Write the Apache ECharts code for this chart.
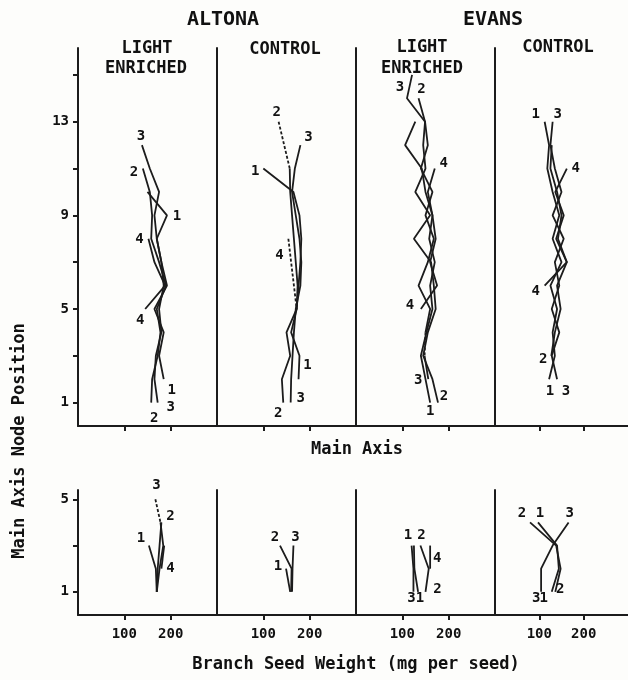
<!DOCTYPE html>
<html>
<head>
<meta charset="utf-8">
<script src="https://cdn.jsdelivr.net/npm/echarts@6/dist/echarts.min.js"></script>
<style>
html, body { margin: 0; padding: 0; background: #fdfdfb; }
#main { width: 628px; height: 680px; }
</style>
</head>
<body>
<div id="main"></div>
<script>
// ticks
var xTicks = [100, 200];
var mainTicks = [1, 3, 5, 7, 9, 11, 13, 15];
var mainTickLabels = [1, 5, 9, 13];
var branchTicks = [1, 3, 5];
var branchTickLabels = [1, 5];

// main axis: [seed weight mg, node] per plant 1..4, top node first
var altonaLightMain = [
  [[150,10],[192,9],[170,8],[180,7],[192,6],[165,5],[185,4],[175,3],[185,2]],
  [[140,11],[155,10],[160,9],[158,8],[175,7],[190,6],[170,5],[178,4],[172,3],[160,2],[158,1]],
  [[138,12],[155,11],[175,10],[165,9],[170,8],[180,7],[185,6],[175,5],[180,4],[168,3],[165,2],[172,1]],
  [[152,8],[165,7],[188,6],[145,5]]
];
var altonaCtrlMain = [
  [[100,11],[165,10],[178,9],[182,8],[180,7],[176,6],[172,5],[160,4],[178,3],[176,2]],
  [[133,13],[145,12],[157,11],[158,10],[162,9],[166,8],[170,7],[174,6],[172,5],[150,4],[158,3],[140,2],[143,1]],
  [[180,12],[168,11],[162,10],[170,9],[178,8],[182,7],[180,6],[170,5],[166,4],[163,3],[160,2],[159,1]],
  [[154,8],[160,7],[166,6],[172,5]]
];
var evansLightMain = [
  [[128,13],[106,12],[142,11],[150,10],[165,9],[158,8],[170,7],[160,6],[165,5],[152,4],[140,3],[150,2],[160,1]],
  [[135,14],[149,13],[145,12],[150,11],[128,10],[160,9],[125,8],[162,7],[168,6],[172,5],[155,4],[145,3],[165,2],[177,1]],
  [[121,15],[110,14],[149,13],[155,12],[140,11],[165,10],[150,9],[168,8],[155,7],[135,6],[160,5],[150,4],[148,3],[156,2]],
  [[170,11],[155,10],[165,9],[172,8],[160,7],[175,6],[140,5]]
];
var evansCtrlMain = [
  [[112,13],[122,12],[118,11],[130,10],[145,9],[130,8],[150,7],[125,6],[140,5],[130,4],[135,3],[122,2]],
  [[128,12],[125,11],[140,10],[150,9],[142,8],[162,7],[140,6],[148,5],[135,4],[127,3]],
  [[130,13],[125,12],[135,11],[150,10],[130,9],[155,8],[135,7],[145,6],[128,5],[145,4],[128,3],[140,2]],
  [[162,11],[136,10],[155,9],[138,8],[162,7],[112,6]]
];

// branches: [seed weight mg, main axis node]
var altonaLightBranch = [
  [[153,3],[168,2],[170,1]],
  [[180,4],[176,3],[172,2],[170,1]],
  [[167,5],[178,4],[184,3],[176,2],[170,1]],
  [[186,3],[180,2]]
];
var altonaCtrlBranch = [
  [[149,2],[158,1]],
  [[136,3],[161,2],[160,1]],
  [[165,3],[163,2],[162,1]],
  null
];
var evansLightBranch = [
  [[125,3],[126,2],[134,1]],
  [[139,3],[157,2],[150,1]],
  [[120,3],[124,2],[124,1]],
  [[160,3],[160,2]]
];
var evansCtrlBranch = [
  [[97,4],[140,3],[144,2],[128,1]],
  [[79,4],[138,3],[148,2],[136,1]],
  [[166,4],[130,3],[104,2],[104,1]],
  null
];

// broken-line pieces: [plant, from point, to point]
var altonaCtrlMainDash = [[2,0,2],[4,0,3]];
var evansLightMainDash = [[3,11,12]];
var altonaLightBranchDash = [[3,0,1]];

// plant numbers: [plant, point (-1 = last), dx, dy]
var altonaLightMainLabels = [[3,0,-1,-9],[2,0,-9,4],[1,1,10,1],[4,0,-9,1],[4,-1,-5,11],[1,-1,8,11],[3,-1,13,5],[2,-1,3,16]];
var altonaCtrlMainLabels = [[2,0,-2,-9],[3,0,8,-8],[1,0,-8,3],[4,0,-9,17],[2,-1,-5,11],[3,-1,10,-4],[1,-1,9,-14]];
var evansLightMainLabels = [[3,0,-12,12],[2,0,3,-9],[4,0,9,-5],[4,-1,-11,-4],[3,-1,-10,1],[2,-1,6,-6],[1,-1,0,9]];
var evansCtrlMainLabels = [[1,0,-9,-7],[3,0,5,-7],[4,0,9,0],[4,-1,-9,6],[2,-1,-8,4],[1,-1,1,12],[3,-1,9,12]];
var altonaLightBranchLabels = [[3,0,1,-14],[2,0,9,-6],[1,0,-8,-7],[4,-1,9,0]];
var altonaCtrlBranchLabels = [[2,0,-5,-8],[3,0,2,-8],[1,0,-8,-2]];
var evansLightBranchLabels = [[1,0,-6,-10],[2,0,1,-10],[4,-1,7,-10],[3,-1,-2,7],[1,-1,2,7],[2,-1,12,-2]];
var evansCtrlBranchLabels = [[2,0,-8,-9],[1,0,2,-9],[3,0,1,-9],[3,-1,-5,7],[1,-1,-8,7],[2,-1,5,-2]];

var FONT = '"DejaVu Sans Mono", monospace';
var INK = '#1c1c1c';
var lefts = [78, 217, 356, 495];

var grids = [], xAxes = [], yAxes = [], series = [];

function addPanel(row, col, lines, dashes, labels) {
  var idx = grids.length;
  var first = col === 0;
  grids.push({
    left: lefts[col], width: 139,
    top: row === 0 ? 48 : 490,
    height: row === 0 ? 378 : 125
  });
  xAxes.push({
    type: 'value', gridIndex: idx, min: 0, max: 300,
    axisLine: { show: true, onZero: false, lineStyle: { color: INK, width: 2 } },
    axisTick: { show: true, customValues: xTicks, length: 5, lineStyle: { color: INK, width: 2 } },
    axisLabel: { show: row === 1, customValues: xTicks, color: '#111', fontFamily: FONT, fontWeight: 'bold', fontSize: 14, margin: 12 },
    splitLine: { show: false }
  });
  yAxes.push({
    type: 'value', gridIndex: idx, min: 0, max: row === 0 ? 16.15 : 5.4,
    axisLine: { show: true, onZero: false, lineStyle: { color: INK, width: 2 } },
    axisTick: { show: first, customValues: row === 0 ? mainTicks : branchTicks, length: 5, lineStyle: { color: INK, width: 2 } },
    axisLabel: { show: first, customValues: row === 0 ? mainTickLabels : branchTickLabels, color: '#111', fontFamily: FONT, fontWeight: 'bold', fontSize: 14, margin: 9 },
    splitLine: { show: false }
  });

  function pushRun(run, dashed) {
    series.push({
      type: 'line', xAxisIndex: idx, yAxisIndex: idx, data: run,
      showSymbol: false, symbol: 'none', silent: true, animation: false,
      lineStyle: { color: INK, width: 1.8, type: dashed ? [3, 2] : 'solid' }
    });
  }

  lines.forEach(function (pts, i) {
    if (!pts) return;
    var plant = i + 1;
    function isDash(j) {
      return dashes.some(function (d) { return d[0] === plant && j >= d[1] && j + 1 <= d[2]; });
    }
    var dash = isDash(0);
    var run = [pts[0]];
    for (var j = 0; j < pts.length - 1; j++) {
      var dj = isDash(j);
      if (dj !== dash) { pushRun(run, dash); run = [pts[j]]; dash = dj; }
      run.push(pts[j + 1]);
    }
    pushRun(run, dash);
  });

  // plant numbers at the line ends
  series.push({
    type: 'scatter', xAxisIndex: idx, yAxisIndex: idx, silent: true, animation: false, z: 5,
    symbolSize: 0, itemStyle: { color: INK, opacity: 1 },
    label: { show: true, position: 'inside', formatter: '{b}', color: '#111', fontFamily: FONT, fontWeight: 'bold', fontSize: 14 },
    data: labels.map(function (s) {
      var pts = lines[s[0] - 1];
      var p = pts[s[1] < 0 ? pts.length + s[1] : s[1]];
      return { name: String(s[0]), value: p, label: { offset: [s[2], s[3]] } };
    })
  });
}

addPanel(0, 0, altonaLightMain, [], altonaLightMainLabels);
addPanel(0, 1, altonaCtrlMain, altonaCtrlMainDash, altonaCtrlMainLabels);
addPanel(0, 2, evansLightMain, evansLightMainDash, evansLightMainLabels);
addPanel(0, 3, evansCtrlMain, [], evansCtrlMainLabels);
addPanel(1, 0, altonaLightBranch, altonaLightBranchDash, altonaLightBranchLabels);
addPanel(1, 1, altonaCtrlBranch, [], altonaCtrlBranchLabels);
addPanel(1, 2, evansLightBranch, [], evansLightBranchLabels);
addPanel(1, 3, evansCtrlBranch, [], evansCtrlBranchLabels);

function txt(s, x, y, size, rot) {
  return {
    type: 'text', x: x, y: y, rotation: rot || 0, silent: true,
    style: { text: s, fill: '#111', font: 'bold ' + size + 'px ' + FONT, align: 'center', verticalAlign: 'middle' }
  };
}

var myChart = echarts.init(document.getElementById('main'));
myChart.setOption({
  backgroundColor: '#fdfdfb',
  animation: false,
  grid: grids,
  xAxis: xAxes,
  yAxis: yAxes,
  series: series,
  graphic: [
    txt('ALTONA', 223, 20, 20),
    txt('EVANS', 493, 20, 20),
    txt('LIGHT', 147, 49, 17),
    txt('ENRICHED', 146, 69, 17),
    txt('CONTROL', 285, 50, 17),
    txt('LIGHT', 422, 48, 17),
    txt('ENRICHED', 422, 69, 17),
    txt('CONTROL', 558, 48, 17),
    txt('Main Axis', 357, 450, 17),
    txt('Branch Seed Weight (mg per seed)', 356, 665, 17),
    txt('Main Axis Node Position', 20, 441, 17, Math.PI / 2)
  ]
});
</script>
</body>
</html>
